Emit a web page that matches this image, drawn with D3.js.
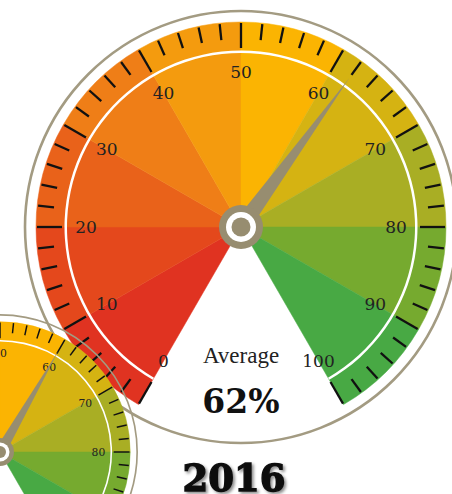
<!DOCTYPE html>
<html>
<head>
<meta charset="utf-8">
<script src="https://cdn.jsdelivr.net/npm/d3@7"></script>
<style>
  html, body { margin: 0; padding: 0; background: #fff; }
  svg { display: block; }
</style>
</head>
<body>
<div id="chart"></div>
<script>
// Datos
const WIDTH = 452;
const HEIGHT = 494;

const segmentColors = ["#e03321", "#e4481c", "#e9621a", "#ef7e17", "#f49b0e",
                       "#fbb402", "#d5b312", "#a9ae24", "#76aa2f", "#48a944"];
const labelValues = [0, 10, 20, 30, 40, 50, 60, 70, 80, 90, 100];
const tickValues = d3.range(0, 101, 2);
const mainValue = 62;
const prevValue = 60;
const averageText = "Average";
const yearText = "2016";

// Escala de valor a ángulo (grados, 0 = arriba)
const angle = d3.scaleLinear().domain([0, 100]).range([-150, 150]);
const rad = d => angle(d) * Math.PI / 180;

const svg = d3.select("#chart")
  .append("svg")
  .attr("width", WIDTH)
  .attr("height", HEIGHT);

const defs = svg.append("defs");
const shadow = defs.append("filter").attr("id", "shadow")
  .attr("x", "-20%").attr("y", "-20%").attr("width", "140%").attr("height", "150%");
shadow.append("feDropShadow")
  .attr("dx", 2).attr("dy", 2).attr("stdDeviation", 1.6)
  .attr("flood-color", "#000").attr("flood-opacity", 0.45);

// Dibuja un gauge completo
function drawGauge(cx, cy, s, value, showText) {
  const g = svg.append("g").attr("transform", `translate(${cx},${cy})`);

  // anillo exterior
  g.append("circle")
    .attr("r", 216 * s)
    .attr("fill", "none")
    .attr("stroke", "#a39b82")
    .attr("stroke-width", 2.6 * s);

  // sectores de color
  const arc = d3.arc().innerRadius(0).outerRadius(205 * s);
  g.selectAll("path.seg")
    .data(segmentColors)
    .join("path")
    .attr("class", "seg")
    .attr("d", (d, i) => arc({
      startAngle: rad(labelValues[i]),
      endAngle: rad(labelValues[i + 1])
    }))
    .attr("fill", d => d)
    .attr("stroke", d => d)
    .attr("stroke-width", 0.5);

  // línea blanca interior
  g.append("path")
    .attr("d", d3.arc().innerRadius(174 * s).outerRadius(176.5 * s)({
      startAngle: rad(0), endAngle: rad(100)
    }))
    .attr("fill", "#fff");

  // marcas
  g.selectAll("line.tick")
    .data(tickValues)
    .join("line")
    .attr("class", "tick")
    .attr("x1", d => 204 * s * Math.sin(rad(d)))
    .attr("y1", d => -204 * s * Math.cos(rad(d)))
    .attr("x2", d => (d % 10 === 0 ? 179 : 188) * s * Math.sin(rad(d)))
    .attr("y2", d => -(d % 10 === 0 ? 179 : 188) * s * Math.cos(rad(d)))
    .attr("stroke", "#111")
    .attr("stroke-width", 2.3 * s);

  // etiquetas
  g.selectAll("text.lbl")
    .data(labelValues)
    .join("text")
    .attr("class", "lbl")
    .attr("x", d => 155 * s * Math.sin(rad(d)))
    .attr("y", d => -155 * s * Math.cos(rad(d)))
    .attr("dy", "0.35em")
    .attr("text-anchor", "middle")
    .attr("font-family", "'DejaVu Serif', serif")
    .attr("font-size", 17 * s)
    .attr("fill", "#222")
    .text(d => d);

  // aguja
  const a = rad(value);
  const tip = 184 * s, base = 8.5 * s;
  const pts = [
    [tip * Math.sin(a), -tip * Math.cos(a)],
    [base * Math.cos(a), base * Math.sin(a)],
    [-base * Math.cos(a), -base * Math.sin(a)]
  ];
  g.append("polygon")
    .attr("points", pts.map(p => p.join(",")).join(" "))
    .attr("fill", "#978d70");

  // pivote
  g.append("circle").attr("r", 22 * s).attr("fill", "#978d70");
  g.append("circle").attr("r", 15 * s).attr("fill", "#fff");
  g.append("circle").attr("r", 9.5 * s).attr("fill", "#978d70");

  if (showText) {
    g.append("text")
      .attr("x", 0)
      .attr("y", 136)
      .attr("text-anchor", "middle")
      .attr("font-family", "'Liberation Serif', serif")
      .attr("font-size", 23)
      .attr("fill", "#222")
      .text(averageText);

    g.append("text")
      .attr("x", 0)
      .attr("y", 186)
      .attr("text-anchor", "middle")
      .attr("font-family", "'DejaVu Serif', serif")
      .attr("font-weight", "bold")
      .attr("font-size", 33)
      .attr("fill", "#111")
      .text(mainValue + "%");
  }
  return g;
}

drawGauge(241, 227, 1, mainValue, true);
drawGauge(0, 452, 0.635, prevValue, false);

// año
svg.append("text")
  .attr("x", 234)
  .attr("y", 491)
  .attr("text-anchor", "middle")
  .attr("font-family", "'DejaVu Serif', serif")
  .attr("font-weight", "bold")
  .attr("font-size", 37)
  .attr("fill", "#111")
  .attr("stroke", "#111")
  .attr("stroke-width", 1.4)
  .attr("filter", "url(#shadow)")
  .text(yearText);
</script>
</body>
</html>
